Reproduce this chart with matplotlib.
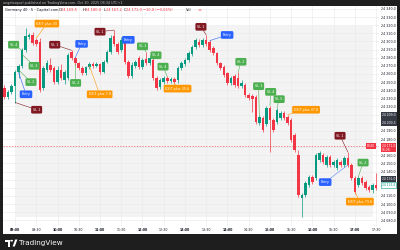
import matplotlib
matplotlib.use('Agg')
import matplotlib.pyplot as plt
from matplotlib.patches import Rectangle, Circle, Polygon
import matplotlib.transforms as mtransforms
import numpy as np

# Germany 40, 5 min candles from 08:45 to 17:30
opens = [24243, 24232, 24238, 24245, 24262, 24270, 24289, 24305, 24308, 24302,
         24299, 24243, 24265, 24271, 24267, 24250, 24265, 24253, 24255, 24287,
         24280, 24273, 24267, 24261, 24269, 24272, 24270, 24272, 24262, 24275,
         24287, 24307, 24297, 24289, 24302, 24275, 24257, 24270, 24280, 24269,
         24278, 24273, 24277, 24255, 24244, 24250, 24255, 24251, 24254, 24253,
         24267, 24272, 24277, 24285, 24293, 24299, 24296, 24302, 24299, 24292,
         24286, 24273, 24269, 24261, 24249, 24257, 24255, 24245, 24246, 24234,
         24233, 24232, 24200, 24206, 24198, 24218, 24203, 24201, 24206, 24212,
         24207, 24203, 24185, 24160, 24107, 24111, 24123, 24133, 24132, 24154,
         24160, 24148, 24158, 24148, 24144, 24152, 24148, 24157, 24148, 24132,
         24123, 24132, 24127, 24121, 24117, 24123]
highs = [24246, 24240, 24248, 24265, 24272, 24292, 24317, 24310, 24312, 24304,
         24304, 24270, 24277, 24280, 24270, 24270, 24272, 24265, 24286, 24289,
         24281, 24275, 24270, 24270, 24275, 24275, 24275, 24273, 24277, 24289,
         24308, 24314, 24299, 24305, 24304, 24277, 24275, 24277, 24282, 24280,
         24287, 24283, 24280, 24257, 24255, 24257, 24257, 24256, 24256, 24270,
         24276, 24280, 24288, 24296, 24304, 24303, 24304, 24308, 24302, 24294,
         24287, 24275, 24271, 24262, 24257, 24260, 24262, 24253, 24249, 24237,
         24235, 24234, 24210, 24208, 24221, 24221, 24206, 24218, 24214, 24214,
         24210, 24206, 24187, 24166, 24114, 24128, 24136, 24136, 24163, 24165,
         24163, 24160, 24160, 24154, 24157, 24154, 24159, 24164, 24150, 24134,
         24134, 24134, 24130, 24123, 24126, 24138]
lows = [24229, 24229, 24235, 24224, 24255, 24267, 24287, 24303, 24296, 24294,
        24238, 24240, 24262, 24262, 24248, 24248, 24253, 24248, 24253, 24277,
        24271, 24265, 24259, 24259, 24266, 24267, 24269, 24260, 24261, 24273,
        24285, 24294, 24285, 24287, 24272, 24255, 24255, 24267, 24266, 24266,
        24271, 24271, 24253, 24240, 24241, 24248, 24249, 24249, 24248, 24249,
        24265, 24270, 24275, 24282, 24291, 24293, 24293, 24294, 24287, 24283,
        24271, 24265, 24256, 24246, 24246, 24244, 24243, 24243, 24232, 24228,
        24213, 24198, 24197, 24189, 24196, 24164, 24189, 24198, 24203, 24203,
        24197, 24176, 24164, 24109, 24084, 24109, 24121, 24125, 24130, 24152,
        24149, 24146, 24146, 24146, 24142, 24146, 24146, 24146, 24130, 24112,
        24121, 24123, 24117, 24115, 24114, 24117]
closes = [24232, 24238, 24245, 24262, 24270, 24289, 24307, 24308, 24298, 24297,
          24240, 24267, 24273, 24265, 24250, 24265, 24255, 24262, 24283, 24280,
          24273, 24267, 24261, 24269, 24272, 24270, 24272, 24262, 24275, 24287,
          24304, 24297, 24287, 24302, 24275, 24257, 24271, 24275, 24269, 24277,
          24273, 24280, 24255, 24243, 24253, 24255, 24251, 24254, 24250, 24267,
          24273, 24277, 24286, 24293, 24302, 24296, 24302, 24297, 24289, 24286,
          24273, 24267, 24259, 24249, 24255, 24246, 24245, 24249, 24234, 24230,
          24229, 24201, 24207, 24191, 24218, 24203, 24191, 24216, 24212, 24206,
          24200, 24179, 24166, 24111, 24111, 24126, 24133, 24127, 24160, 24163,
          24152, 24158, 24148, 24152, 24154, 24148, 24157, 24148, 24132, 24115,
          24132, 24126, 24120, 24117, 24123, 24120]

time_labels = ['09:00', '09:30', '10:00', '10:30', '11:00', '11:30', '12:00', '12:30',
               '13:00', '13:30', '14:00', '14:30', '15:00', '15:30', '16:00', '16:30',
               '17:00', '17:30']
first_tick = 3      # 09:00 is the 4th candle
price_ticks = [24080, 24090, 24100, 24110, 24120, 24130, 24140, 24150, 24160, 24170,
               24180, 24190, 24200, 24210, 24220, 24230, 24240, 24250, 24260, 24270,
               24280, 24290, 24300, 24310, 24320, 24330, 24340]
last_price = 24171.0
dark_badges = [24209.0, 24200.3, 24131.0]
teal_badge = 24123.4

# trade labels: text, kind, anchor candle, anchor price, label candle, label price
trade_labels = [
    ('EXIT plus 33', 'exit', 9, 24304, 12.0, 24322),
    ('SL 4', 'sl', 5, 24289, 2.6, 24296),
    ('SL 3', 'sl', 5, 24284, 8.4, 24270),
    ('SL 2', 'sl', 4, 24265, 7.5, 24250),
    ('Entry', 'entry', 4, 24262, 6.1, 24235),
    ('SL 1', 'stop', 3, 24225, 9.1, 24216),
    ('SL 1', 'stop', 19, 24289, 14.2, 24296),
    ('Entry', 'entry', 20, 24280, 21.8, 24297),
    ('SL 1', 'stop', 31, 24314, 27.0, 24312),
    ('SL 2', 'sl', 20, 24272, 20.1, 24249),
    ('EXIT plus 7.8', 'exit', 24, 24270, 26.9, 24235),
    ('Entry', 'entry', 34, 24300, 35.0, 24302),
    ('SL 3', 'sl', 40, 24287, 39.0, 24294),
    ('SL 4', 'sl', 42, 24279, 42.8, 24283),
    ('SL 4', 'sl', 46, 24257, 44.8, 24269),
    ('EXIT plus 35.6', 'exit', 48, 24249, 48.9, 24242),
    ('SL 1', 'stop', 57, 24308, 55.5, 24318),
    ('Entry', 'entry', 58, 24301, 62.9, 24308),
    ('SL 2', 'sl', 66, 24262, 66.8, 24275),
    ('SL 3', 'sl', 72, 24208, 71.8, 24245),
    ('SL 4', 'sl', 75, 24221, 75.2, 24238),
    ('SL 5', 'sl', 77, 24218, 77.6, 24229),
    ('EXIT plus 37.8', 'exit', 80, 24210, 85.2, 24216),
    ('SL 1', 'stop', 97, 24164, 94.8, 24184),
    ('Entry', 'entry', 97, 24148, 90.6, 24127),
    ('SL 2', 'sl', 100, 24134, 101.3, 24151),
    ('EXIT plus 73.6', 'exit', 99, 24115, 100.4, 24103),
]
kind_colors = {'sl': '#4caf50', 'stop': '#801922', 'entry': '#2962ff', 'exit': '#ff9800'}

UP = '#089981'
DOWN = '#f23645'
TXT = '#131722'
W, H = 400, 250


def fx(x):
    return x / W


def fy(y):
    return 1 - y / H


def fmt_price(v):
    return '{:,.1f}'.format(v).replace(',', ' ').replace('.', ',')


fig = plt.figure(figsize=(4, 2.5), dpi=100)
fig.patch.set_facecolor('#1e1e1e')
fig.add_artist(Rectangle((fx(3), fy(234)), fx(394), 228 / H, transform=fig.transFigure,
                         facecolor='white', edgecolor='none', zorder=0))

ax = fig.add_axes([fx(3), fy(226), fx(376), 220 / H])
ax.set_facecolor('white')
ax.set_xlim(-0.4, 105.8)
ax.set_ylim(24073.0, 24343.6)
for s in ax.spines.values():
    s.set_visible(False)

# shaded box drawn on the chart
ax.add_patch(Rectangle((3.3, 24084), 100.8, 235, facecolor='#f3f3f3',
                       edgecolor='none', zorder=0.1))

ax.set_axisbelow(True)
ax.grid(True, color='#e9e9e9', lw=0.4)

# tick labels that sit under a price badge are hidden, as on the platform
badge_prices = [last_price, teal_badge] + dark_badges
ax.yaxis.tick_right()
ax.set_yticks(price_ticks)
ax.set_yticklabels(['' if min(abs(p - b) for b in badge_prices) < 6 else fmt_price(p)
                    for p in price_ticks])
ax.tick_params(axis='y', length=0, pad=1.5, labelsize=2.3, labelcolor=TXT)
xt = list(range(first_tick, first_tick + 6 * len(time_labels), 6))
ax.set_xticks(xt)
ax.set_xticklabels(time_labels)
ax.tick_params(axis='x', length=0, pad=1.2, labelsize=2.3, labelcolor=TXT)
for i, lab in enumerate(ax.get_xticklabels()):
    if time_labels[i].endswith(':00'):
        lab.set_fontweight('bold')

o = np.array(opens, float)
h = np.array(highs, float)
l = np.array(lows, float)
c = np.array(closes, float)
x = np.arange(len(o))
cols = np.where(c >= o, UP, DOWN)
ax.vlines(x, l, h, colors=cols, lw=0.5, zorder=2)
ax.bar(x, np.maximum(np.abs(c - o), 0.8), bottom=np.minimum(o, c), width=0.72,
       color=cols, linewidth=0, zorder=3)

ax.axhline(last_price, color=DOWN, lw=0.5, ls=(0, (2, 2)), alpha=0.8, zorder=2)

for text, kind, ai, ap, li, lp in trade_labels:
    col = kind_colors[kind]
    ls = (0, (1, 1)) if (kind == 'entry' and ai > 90) else '-'
    ax.annotate(text, xy=(ai, ap), xytext=(li, lp), textcoords='data',
                ha='center', va='center', fontsize=2.4, color='white', zorder=5,
                bbox=dict(boxstyle='round,pad=0.55,rounding_size=0.4', fc=col, ec='none'),
                arrowprops=dict(arrowstyle='-', color=col, lw=0.4, linestyle=ls,
                                shrinkA=0, shrinkB=0))

# price axis badges
trans = mtransforms.blended_transform_factory(ax.transAxes, ax.transData)
ax.text(1.008, last_price - 1.5, fmt_price(last_price) + '\n01:26', transform=trans,
        ha='left', va='center', fontsize=2.2, color='white', linespacing=1.0,
        bbox=dict(boxstyle='square,pad=0.3', fc=DOWN, ec='none'), clip_on=False, zorder=6)
ax.text(0.99, last_price, 'DE40', transform=trans, ha='right', va='center',
        fontsize=2.2, color='white',
        bbox=dict(boxstyle='square,pad=0.3', fc=DOWN, ec='none'), zorder=6)
for p in dark_badges:
    ax.text(1.008, p, fmt_price(p), transform=trans, ha='left', va='center',
            fontsize=2.2, color='white',
            bbox=dict(boxstyle='square,pad=0.35', fc='#363a45', ec='none'),
            clip_on=False, zorder=6)
ax.text(1.008, teal_badge, fmt_price(teal_badge), transform=trans, ha='left', va='center',
        fontsize=2.2, color=UP,
        bbox=dict(boxstyle='square,pad=0.3', fc='white', ec=UP, lw=0.4), clip_on=False, zorder=6)

# header line
fig.text(fx(3), fy(2.6), 'angelasqual published on TradingView.com, Oct 30, 2025 08:34 UTC+1',
         fontsize=2.4, color='#b2b5be', va='center')
fig.text(fx(5), fy(10), 'Germany 40 \u00b7 5 \u00b7 Capital.com', fontsize=2.6, color=TXT, va='center')
hx = [59, 83, 104, 124]
for xx, k, v in zip(hx, ['O', 'H', 'L', 'C'], ['24 169,5', '24 180,0', '24 167,2', '24 171,0']):
    fig.text(fx(xx), fy(10), k, fontsize=2.6, color=TXT, va='center')
    fig.text(fx(xx + 2.2), fy(10), v, fontsize=2.6, color=DOWN, va='center')
fig.text(fx(143), fy(10), '\u221210,0 (\u22120,06%)', fontsize=2.6, color=DOWN, va='center')
fig.text(fx(186), fy(10), 'Vol', fontsize=2.6, color=TXT, va='center')
fig.add_artist(Circle((fx(200), fy(10)), 0.004, transform=fig.transFigure,
                      facecolor='#f7a1a8', edgecolor='none'))

# TradingView logo
fig.add_artist(Polygon([(fx(5), fy(239.5)), (fx(10), fy(239.5)), (fx(10), fy(246.5)),
                        (fx(7.6), fy(246.5)), (fx(7.6), fy(241.8)), (fx(5), fy(241.8))],
                       closed=True, transform=fig.transFigure, fc='white', ec='none'))
fig.add_artist(Circle((fx(11.6), fy(240.7)), 0.0035, transform=fig.transFigure,
                      fc='white', ec='none'))
fig.add_artist(Polygon([(fx(12.6), fy(246.5)), (fx(15.2), fy(239.5)), (fx(17.4), fy(239.5)),
                        (fx(14.8), fy(246.5))],
                       closed=True, transform=fig.transFigure, fc='white', ec='none'))
fig.text(fx(19), fy(243.3), 'TradingView', fontsize=5.2, color='white', va='center')

fig.savefig('out.png', dpi=100, facecolor=fig.get_facecolor())
